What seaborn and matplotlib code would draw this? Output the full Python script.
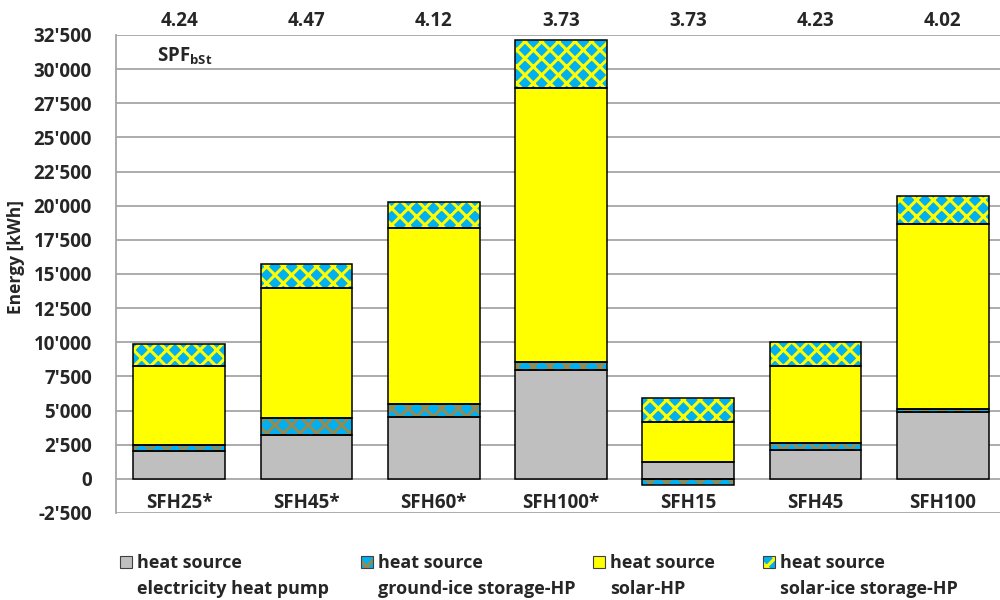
import numpy as np
import pandas as pd
import seaborn as sns
import matplotlib.pyplot as plt
from matplotlib.patches import Rectangle
from matplotlib.ticker import FuncFormatter, MultipleLocator

# values (kWh)
buildings = ["SFH25*", "SFH45*", "SFH60*", "SFH100*", "SFH15", "SFH45", "SFH100"]
spf_bst = ["4.24", "4.47", "4.12", "3.73", "3.73", "4.23", "4.02"]
electricity_hp = [2050, 3220, 4540, 7980, 1230, 2120, 4900]
ground_ice_hp = [450, 1250, 950, 590, -440, 490, 200]
solar_hp = [5770, 9520, 12880, 20060, 2930, 5660, 13550]
solar_ice_hp = [1610, 1760, 1900, 3510, 1760, 1760, 2070]

df = pd.DataFrame({
    "building": buildings,
    "electricity": electricity_hp,
    "ground_ice": ground_ice_hp,
    "solar": solar_hp,
    "solar_ice": solar_ice_hp,
})
# stacking bottoms (negative ground-ice part hangs below zero)
df["b_elec"] = 0
df["b_ground"] = np.where(df["ground_ice"] > 0, df["electricity"], 0)
df["b_solar"] = df["electricity"] + df["ground_ice"].clip(lower=0)
df["b_solar_ice"] = df["b_solar"] + df["solar"]

GREY = "#BFBFBF"
BLUE = "#00B0F0"
YELLOW = "#FFFF00"
OLIVE = "#948A54"

layers = [
    # column, bottom, face, hatch, hatch colour, legend label
    ("electricity", "b_elec", GREY, None, GREY, "heat source\nelectricity heat pump"),
    ("ground_ice", "b_ground", BLUE, "xx", OLIVE, "heat source\nground-ice storage-HP"),
    ("solar", "b_solar", YELLOW, None, YELLOW, "heat source\nsolar-HP"),
    ("solar_ice", "b_solar_ice", BLUE, "xx", YELLOW, "heat source\nsolar-ice storage-HP"),
]

sns.set_style("white")
plt.rcParams["font.family"] = ["Open Sans", "DejaVu Sans"]
plt.rcParams["font.weight"] = "bold"
plt.rcParams["hatch.linewidth"] = 2.2
plt.rcParams["mathtext.fontset"] = "custom"
plt.rcParams["mathtext.bf"] = "Open Sans:bold"
plt.rcParams["mathtext.rm"] = "Open Sans:bold"

FS = 13.5
LEG_FS = 13

fig = plt.figure(figsize=(10, 6), dpi=100)
ax = fig.add_axes([0.1155, 0.145, 0.891, 0.7967])

for col, bottom, face, hatch, hcol, label in layers:
    # fill + hatch (hatch takes the edge colour)
    sns.barplot(data=df, x="building", y=col, bottom=df[bottom], color=face,
                saturation=1, width=0.72, edgecolor=hcol, linewidth=0,
                hatch=hatch, ax=ax, zorder=2)
    # black outline on top
    sns.barplot(data=df, x="building", y=col, bottom=df[bottom], color="black",
                fill=False, saturation=1, width=0.72, linewidth=1.1, ax=ax, zorder=3)

ax.set_ylim(-2500, 32500)
ax.set_xlim(-0.5, len(buildings) - 0.5)
ax.yaxis.set_major_locator(MultipleLocator(2500))
ax.yaxis.set_major_formatter(FuncFormatter(lambda v, p: f"{int(round(v)):,}".replace(",", "'")))
ax.grid(axis="y", color="#A6A6A6", linewidth=1.3, zorder=0)
ax.set_axisbelow(True)
for s in ["top", "right", "bottom"]:
    ax.spines[s].set_visible(False)
ax.spines["left"].set_color("#A6A6A6")
ax.spines["left"].set_linewidth(1.3)
ax.tick_params(axis="y", length=0, pad=17, labelsize=FS)
for t in ax.get_yticklabels():
    t.set_fontweight("bold")
ax.tick_params(axis="x", length=0, labelbottom=False)
ax.set_xlabel("")
ax.set_ylabel("Energy [kWh]", fontsize=12.5, fontweight="bold")
ax.yaxis.set_label_coords(-0.102, 0.536)

# building names inside the plot, just above the -2'500 line
for i, name in enumerate(buildings):
    ax.text(i, -1800, name, ha="center", va="center", fontsize=FS, fontweight="bold")
    ax.text(i, 1.029, spf_bst[i], ha="center", va="center", fontsize=FS,
            fontweight="bold", transform=ax.get_xaxis_transform())

ax.text(0.047, 0.956, r"SPF$_{\mathbf{bSt}}$", transform=ax.transAxes,
        ha="left", va="center", fontsize=FS, fontweight="bold")

# legend drawn by hand so the box sits next to the first line
leg_x = [0.120, 0.361, 0.593, 0.763]
for (col, bottom, face, hatch, hcol, label), x in zip(layers, leg_x):
    fig.patches.append(Rectangle((x, 0.0533), 0.012, 0.02, transform=fig.transFigure,
                                 facecolor=face, edgecolor=hcol, hatch=hatch, linewidth=0))
    fig.patches.append(Rectangle((x, 0.0533), 0.012, 0.02, transform=fig.transFigure,
                                 facecolor="none", edgecolor="#404040", linewidth=0.8))
    first, second = label.split("\n")
    fig.text(x + 0.017, 0.062, first, ha="left", va="center", fontsize=LEG_FS, fontweight="bold")
    fig.text(x + 0.017, 0.019, second, ha="left", va="center", fontsize=LEG_FS, fontweight="bold")

fig.savefig("out.png", dpi=100)
